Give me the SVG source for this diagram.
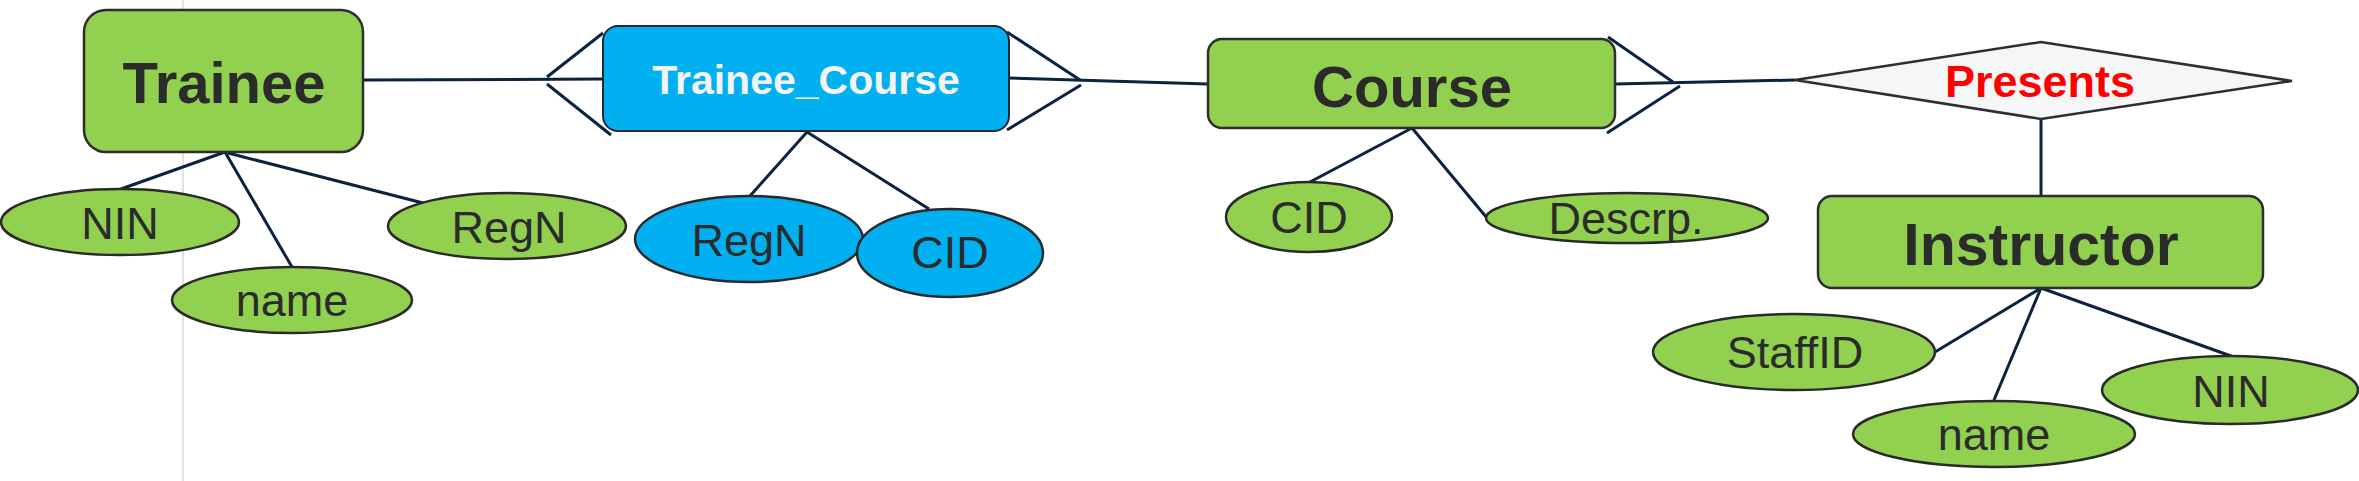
<svg xmlns="http://www.w3.org/2000/svg" width="2359" height="481" viewBox="0 0 2359 481">
<style>
.ent{fill:#92d050;stroke:#2e2e2e;stroke-width:2.5}
.weak{fill:#00b0f0;stroke:#1f2a36;stroke-width:2}
.attr{fill:#92d050;stroke:#2a2a2a;stroke-width:2.5}
.battr{fill:#00b0f0;stroke:#2a2a2a;stroke-width:2.5}
.rel{fill:#f5f6f6;stroke:#2e2e2e;stroke-width:2.5}
.c{stroke:#0b2240;stroke-width:3;fill:none;stroke-linecap:butt}
.tb{font-family:"Liberation Sans",Arial,sans-serif;font-weight:bold;fill:#2b2b2b;text-anchor:middle}
.ta{font-family:"Liberation Sans",Arial,sans-serif;font-size:45px;fill:#2b2b2b;text-anchor:middle}
</style>
<rect x="0" y="0" width="2359" height="481" fill="#ffffff"/>
<line x1="183" y1="0" x2="183" y2="481" stroke="#d9d9d9" stroke-width="1.5"/>
<g id="connectors">
  <line class="c" x1="363" y1="80" x2="603" y2="79"/>
  <line class="c" x1="547" y1="77" x2="603" y2="33"/>
  <line class="c" x1="547" y1="84" x2="611" y2="135"/>
  <line class="c" x1="1009" y1="78" x2="1208" y2="84"/>
  <line class="c" x1="1007" y1="32" x2="1080" y2="80"/>
  <line class="c" x1="1081" y1="85" x2="1007" y2="130"/>
  <line class="c" x1="1615" y1="84" x2="1795" y2="80"/>
  <line class="c" x1="1608" y1="37" x2="1673" y2="82"/>
  <line class="c" x1="1680" y1="86" x2="1607" y2="133"/>
  <line class="c" x1="2041" y1="119" x2="2041" y2="197"/>
  <line class="c" x1="225" y1="152" x2="121" y2="189"/>
  <line class="c" x1="225" y1="152" x2="292" y2="267"/>
  <line class="c" x1="228" y1="153" x2="423" y2="203"/>
  <line class="c" x1="807" y1="132" x2="750" y2="196"/>
  <line class="c" x1="807" y1="132" x2="929" y2="209"/>
  <line class="c" x1="1412" y1="128" x2="1310" y2="182"/>
  <line class="c" x1="1412" y1="128" x2="1487" y2="218"/>
  <line class="c" x1="2041" y1="288" x2="1935" y2="352"/>
  <line class="c" x1="2041" y1="288" x2="1994" y2="400"/>
  <line class="c" x1="2041" y1="288" x2="2231" y2="356"/>
</g>
<g id="trainee">
  <rect class="ent" x="84" y="10" width="279" height="142" rx="22"/>
  <text class="tb" x="224" y="103" font-size="58">Trainee</text>
</g>
<g id="trainee_course">
  <rect class="weak" x="603" y="26" width="406" height="105" rx="15"/>
  <text class="tb" x="806" y="94" font-size="41" style="fill:#f4f4f4">Trainee_Course</text>
</g>
<g id="course">
  <rect class="ent" x="1208" y="39" width="407" height="89" rx="14"/>
  <text class="tb" x="1412" y="107" font-size="58">Course</text>
</g>
<g id="presents">
  <polygon class="rel" points="1795,80 2041,42 2292,81 2041,119"/>
  <text class="tb" x="2040" y="97" font-size="45" style="fill:#ff0000">Presents</text>
</g>
<g id="instructor">
  <rect class="ent" x="1818" y="196" width="445" height="92" rx="14"/>
  <text class="tb" x="2041" y="265" font-size="59">Instructor</text>
</g>
<g id="trainee_nin">
  <ellipse class="attr" cx="120" cy="222" rx="119" ry="33"/>
  <text class="ta" x="120" y="239">NIN</text>
</g>
<g id="trainee_name">
  <ellipse class="attr" cx="292" cy="300" rx="120" ry="33"/>
  <text class="ta" x="292" y="316">name</text>
</g>
<g id="trainee_regn">
  <ellipse class="attr" cx="507" cy="226" rx="119" ry="33"/>
  <text class="ta" x="509" y="243">RegN</text>
</g>
<g id="tc_regn">
  <ellipse class="battr" cx="749" cy="239" rx="114" ry="43"/>
  <text class="ta" x="749" y="256">RegN</text>
</g>
<g id="tc_cid">
  <ellipse class="battr" cx="950" cy="253" rx="93" ry="44"/>
  <text class="ta" x="950" y="268">CID</text>
</g>
<g id="course_cid">
  <ellipse class="attr" cx="1309" cy="217" rx="83" ry="35"/>
  <text class="ta" x="1309" y="233">CID</text>
</g>
<g id="course_descr">
  <ellipse class="attr" cx="1627" cy="218" rx="141" ry="25"/>
  <text class="ta" x="1626" y="234">Descrp.</text>
</g>
<g id="instr_staffid">
  <ellipse class="attr" cx="1794" cy="352" rx="141" ry="38"/>
  <text class="ta" x="1795" y="368">StaffID</text>
</g>
<g id="instr_name">
  <ellipse class="attr" cx="1994" cy="434" rx="141" ry="33"/>
  <text class="ta" x="1994" y="450">name</text>
</g>
<g id="instr_nin">
  <ellipse class="attr" cx="2230" cy="390" rx="128" ry="34"/>
  <text class="ta" x="2231" y="407">NIN</text>
</g>
</svg>
